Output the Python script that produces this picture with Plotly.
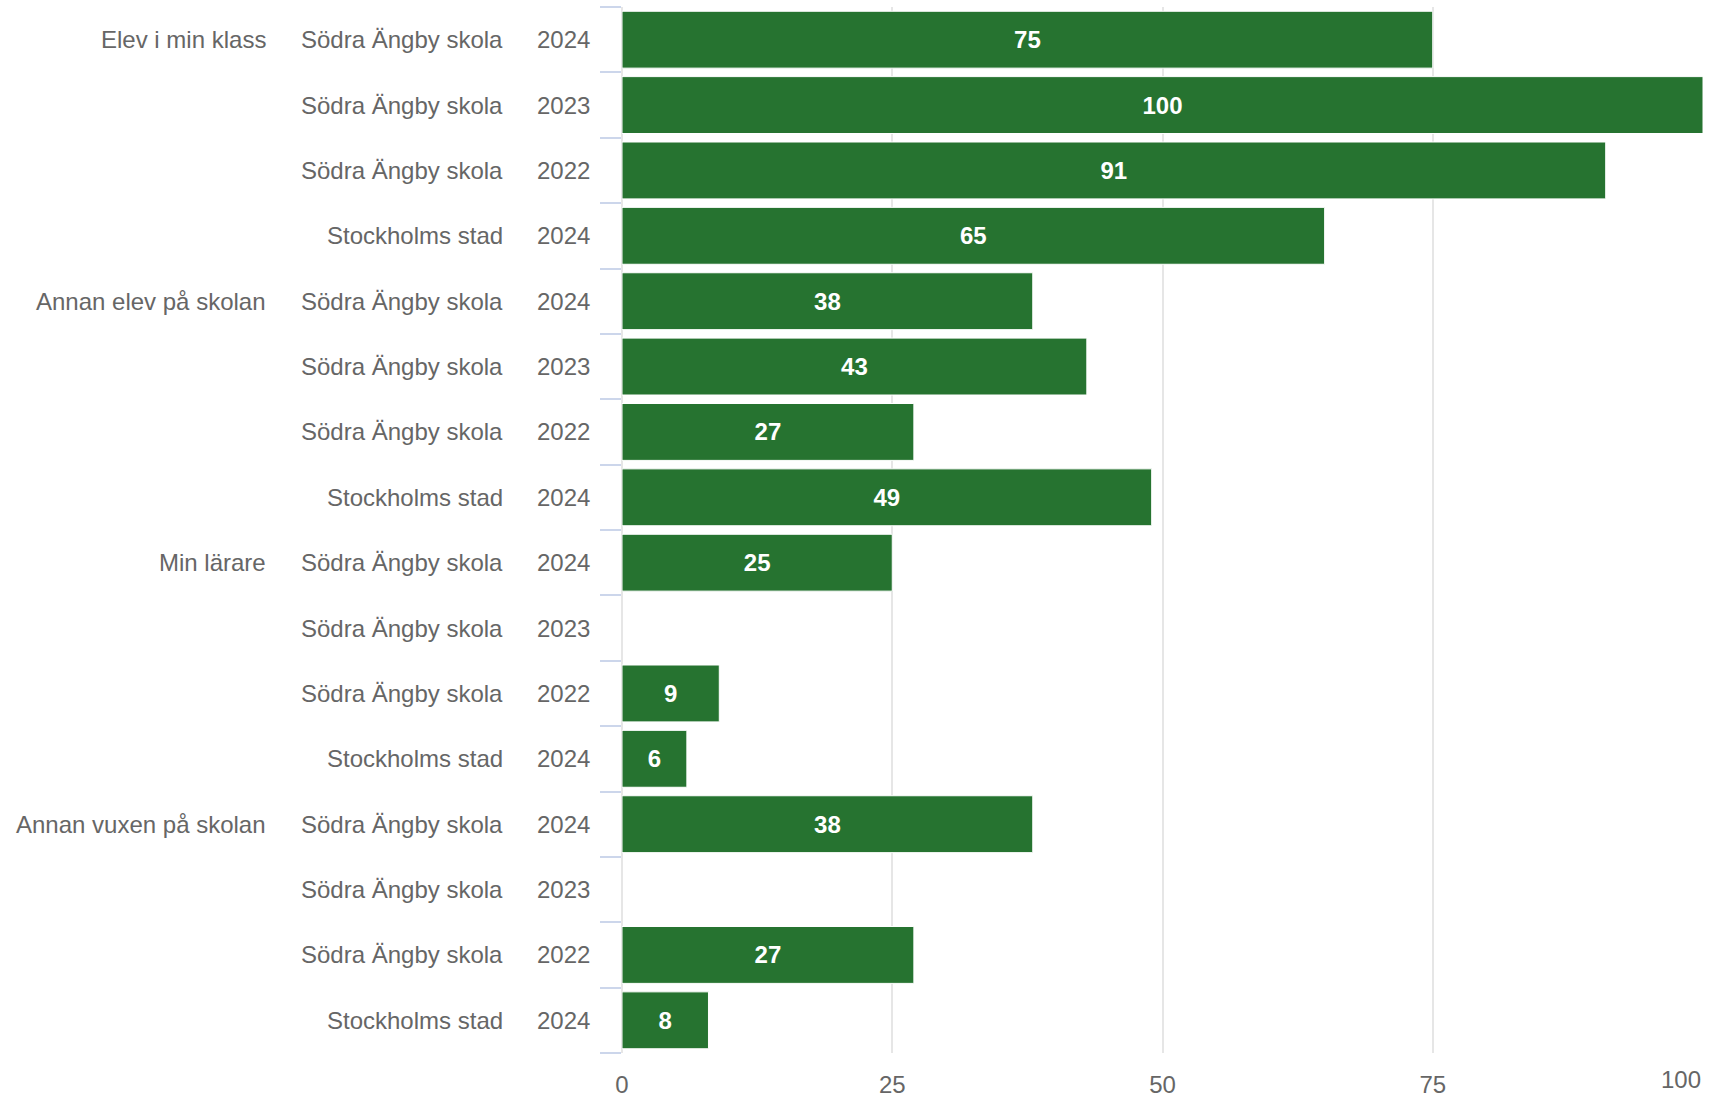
import plotly.graph_objects as go

# ---- data ----
groups = ["Elev i min klass", "Annan elev på skolan", "Min lärare", "Annan vuxen på skolan"]
units = ["Södra Ängby skola", "Södra Ängby skola", "Södra Ängby skola", "Stockholms stad"]
years = ["2024", "2023", "2022", "2024"]
values_elev_klass = [75, 100, 91, 65]
values_annan_elev = [38, 43, 27, 49]
values_min_larare = [25, None, 9, 6]
values_annan_vuxen = [38, None, 27, 8]
x_ticks = [0, 25, 50, 75, 100]

all_values = values_elev_klass + values_annan_elev + values_min_larare + values_annan_vuxen
n_rows = len(all_values)
row_index = list(range(n_rows))
row_group = [g for g in groups for _ in units]
row_unit = units * len(groups)
row_year = years * len(groups)

BAR = "#267330"
LABEL = "#666666"
FONT = "Liberation Sans, Arial, sans-serif"

fig = go.Figure()
fig.add_trace(go.Bar(
    x=all_values,
    y=row_index,
    orientation="h",
    width=0.87,
    marker=dict(color=BAR, line=dict(color="white", width=1)),
    text=[("" if v is None else str(v)) for v in all_values],
    textposition="inside",
    insidetextanchor="middle",
    textangle=0,
    textfont=dict(family=FONT, size=24, color="white", weight="bold"),
    hoverinfo="skip",
    cliponaxis=False,
))

annotations = []
for i in row_index:
    annotations.append(dict(x=0, xref="paper", y=i, yref="y", text=row_year[i],
                            xanchor="right", yanchor="middle", xshift=-30, showarrow=False,
                            font=dict(family=FONT, size=24, color=LABEL)))
    annotations.append(dict(x=0, xref="paper", y=i, yref="y", text=row_unit[i],
                            xanchor="right", yanchor="middle", xshift=-117, showarrow=False,
                            font=dict(family=FONT, size=24, color=LABEL)))
    if i % len(units) == 0:
        annotations.append(dict(x=0, xref="paper", y=i, yref="y", text=row_group[i],
                                xanchor="right", yanchor="middle", xshift=-354, showarrow=False,
                                font=dict(family=FONT, size=24, color=LABEL)))
# last x tick label, right-aligned at the plot edge
annotations.append(dict(x=x_ticks[-1], xref="x", y=0, yref="paper", text=str(x_ticks[-1]),
                        xanchor="right", yanchor="top", yshift=-11, showarrow=False,
                        font=dict(family=FONT, size=24, color=LABEL)))

fig.update_layout(
    template="none",
    width=1712, height=1098,
    margin=dict(l=622, r=9, t=7, b=45, autoexpand=False),
    paper_bgcolor="white", plot_bgcolor="white",
    showlegend=False,
    bargap=0.13,
    font=dict(family=FONT, size=24, color=LABEL),
    annotations=annotations,
    xaxis=dict(
        automargin=False,
        range=[0, 100],
        tickvals=x_ticks[:-1],
        ticktext=[str(t) for t in x_ticks[:-1]],
        showgrid=True, gridcolor="#e6e6e6", gridwidth=2,
        zeroline=True, zerolinecolor="#e6e6e6", zerolinewidth=2,
        showline=False,
        ticks="outside", ticklen=10, tickcolor="rgba(0,0,0,0)",
        tickfont=dict(family=FONT, size=24, color=LABEL),
        fixedrange=True,
    ),
    yaxis=dict(
        automargin=False,
        range=[n_rows - 0.5, -0.5],
        tickvals=[i - 0.5 for i in range(n_rows + 1)],
        showticklabels=False,
        showgrid=False, zeroline=False, showline=False,
        ticks="outside", ticklen=21, tickwidth=2, tickcolor="#ccd6eb",
        fixedrange=True,
    ),
)

fig.write_html(
    "out.html",
    config={"displayModeBar": False},
    post_script=(
        "var h=document.documentElement,b=document.body;"
        "h.style.margin='0';h.style.padding='0';h.style.overflow='hidden';"
        "b.style.margin='0';b.style.padding='0';b.style.overflow='hidden';"
    ),
)
